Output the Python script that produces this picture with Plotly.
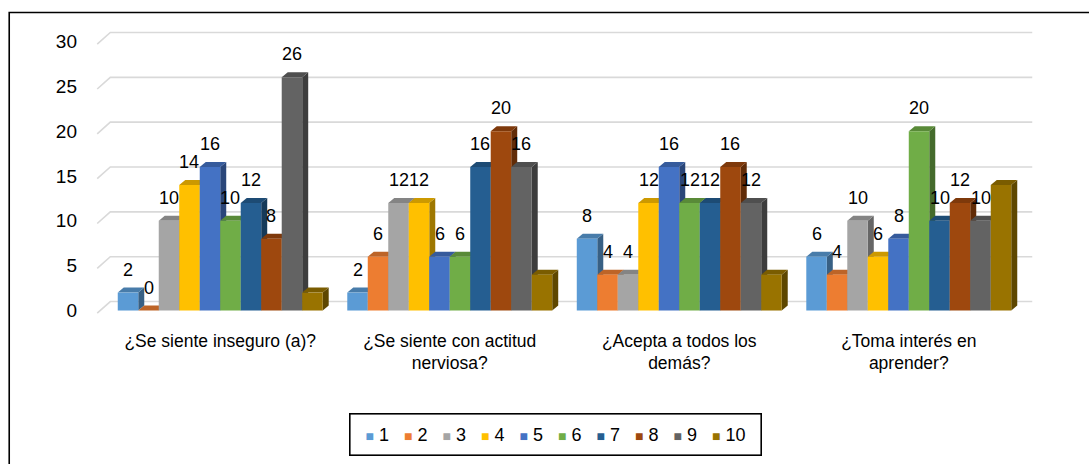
import plotly.graph_objects as go

# ---- data -------------------------------------------------------------
categories = [
    "¿Se siente inseguro (a)?",
    "¿Se siente con actitud<br>nerviosa?",
    "¿Acepta a todos los<br>demás?",
    "¿Toma interés en<br>aprender?",
]
series_names = ["1", "2", "3", "4", "5", "6", "7", "8", "9", "10"]

s1 = [2, 2, 8, 6]
s2 = [0, 6, 4, 4]
s3 = [10, 12, 4, 10]
s4 = [14, 12, 12, 6]
s5 = [16, 6, 16, 8]
s6 = [10, 6, 12, 20]
s7 = [12, 16, 12, 10]
s8 = [8, 20, 16, 12]
s9 = [26, 16, 12, 10]
s10 = [2, 4, 4, 14]
series_values = [s1, s2, s3, s4, s5, s6, s7, s8, s9, s10]

# series that carry a value label
labelled = [True] * 9 + [False]

y_ticks = [0, 5, 10, 15, 20, 25, 30]

colors = ["#5B9BD5", "#ED7D31", "#A5A5A5", "#FFC000", "#4472C4",
          "#70AD47", "#255E91", "#9E480E", "#636363", "#997300"]

# ---- geometry ---------------------------------------------------------
W, H = 1089, 464
X_RANGE = [-0.55, 3.55]
Y_RANGE = [-0.5, 31.5]
PX_PER_CAT = 229.5
PX_PER_UNIT = 9.0
CAT0_PX = 220.0
ZERO_PX = 311.0

plot_left = CAT0_PX + PX_PER_CAT * X_RANGE[0]
plot_right = CAT0_PX + PX_PER_CAT * X_RANGE[1]
plot_bottom = ZERO_PX - PX_PER_UNIT * Y_RANGE[0]
plot_top = ZERO_PX - PX_PER_UNIT * Y_RANGE[1]


def px_to_paper_x(px):
    return (px - plot_left) / (plot_right - plot_left)


def px_to_paper_y(py):
    return (plot_bottom - py) / (plot_bottom - plot_top)


BARGAP = 0.107
N = len(series_values)
bar_w = (1 - BARGAP) / N
DEPTH_X = 6 / PX_PER_CAT      # 3-D extrusion, in axis units
DEPTH_Y = 5 / PX_PER_UNIT
WALL_Y = 1.0                  # back wall offset of the grid


def shade(hex_color, f):
    h = hex_color.lstrip("#")
    r, g, b = (int(h[i:i + 2], 16) for i in (0, 2, 4))
    return "#%02x%02x%02x" % (int(r * f), int(g * f), int(b * f))


FONT = "Liberation Sans, Arial, sans-serif"

fig = go.Figure()
x_pos = list(range(len(categories)))

for name, vals, col in zip(series_names, series_values, colors):
    fig.add_trace(go.Bar(
        x=x_pos, y=vals, name=name,
        marker=dict(color=col, line=dict(width=0)),
        hoverinfo="skip", showlegend=False,
    ))

shapes = []
# back wall grid with perspective stub on the left
for v in y_ticks:
    shapes.append(dict(
        type="path", xref="x", yref="y", layer="below",
        path=f"M {-0.536},{v - 0.3} L {-0.479},{v + WALL_Y} L {3.538},{v + WALL_Y}",
        line=dict(color="#d9d9d9", width=1.6),
    ))

# top and side faces of each bar
annotations = []
for j, (vals, col) in enumerate(zip(series_values, colors)):
    for i, v in enumerate(vals):
        left = i - (1 - BARGAP) / 2 + j * bar_w
        right = left + bar_w
        top_face = (f"M {left},{v} L {left + DEPTH_X},{v + DEPTH_Y} "
                    f"L {right + DEPTH_X},{v + DEPTH_Y} L {right},{v} Z")
        side_face = (f"M {right},0 L {right + DEPTH_X},{DEPTH_Y} "
                     f"L {right + DEPTH_X},{v + DEPTH_Y} L {right},{v} Z")
        shapes.append(dict(type="path", xref="x", yref="y", layer="below",
                           path=side_face, fillcolor=shade(col, 0.62),
                           line=dict(width=0)))
        shapes.append(dict(type="path", xref="x", yref="y", layer="below",
                           path=top_face, fillcolor=shade(col, 0.8),
                           line=dict(width=0)))
        if labelled[j]:
            annotations.append(dict(
                x=(left + right) / 2, y=v, xref="x", yref="y",
                text=str(v), showarrow=False, yanchor="middle",
                yshift=23, font=dict(size=18, color="#000000", family=FONT),
            ))

# compact legend row: coloured squares followed by the series name
NB = "\u00a0"
legend_items = [
    f"<span style='color:{col};font-size:14px'>■</span>{NB}{name}"
    for name, col in zip(series_names, colors)
]
annotations.append(dict(
    xref="paper", yref="paper", x=px_to_paper_x(555), y=px_to_paper_y(435.5),
    xanchor="center", yanchor="middle", showarrow=False,
    text=NB + (NB * 3).join(legend_items) + NB,
    font=dict(size=18, family=FONT, color="#000000"),
    bordercolor="#000000", borderwidth=1.6, borderpad=10, bgcolor="#ffffff",
))

# outer frame of the chart
shapes.append(dict(
    type="rect", xref="paper", yref="paper", layer="above",
    x0=px_to_paper_x(9), x1=px_to_paper_x(1100),
    y0=px_to_paper_y(475), y1=px_to_paper_y(12),
    line=dict(color="#000000", width=1.6), fillcolor="rgba(0,0,0,0)",
))

fig.update_layout(
    width=W, height=H, autosize=False,
    margin=dict(l=plot_left, r=W - plot_right, t=plot_top, b=H - plot_bottom, pad=0),
    paper_bgcolor="#ffffff", plot_bgcolor="#ffffff",
    barmode="group", bargap=BARGAP, bargroupgap=0,
    font=dict(family=FONT, color="#000000"),
    shapes=shapes, annotations=annotations,
    showlegend=False,
)
fig.update_xaxes(
    range=X_RANGE, tickvals=x_pos, ticktext=categories,
    showgrid=False, zeroline=False, showline=False, ticks="",
    ticklabelstandoff=13, tickfont=dict(size=17.5, family=FONT),
)
fig.update_yaxes(
    range=Y_RANGE, tickvals=y_ticks, showgrid=False, zeroline=False,
    showline=False, ticks="", ticklabelstandoff=16,
    tickfont=dict(size=19, family=FONT),
)

fig.write_html("out.html")
